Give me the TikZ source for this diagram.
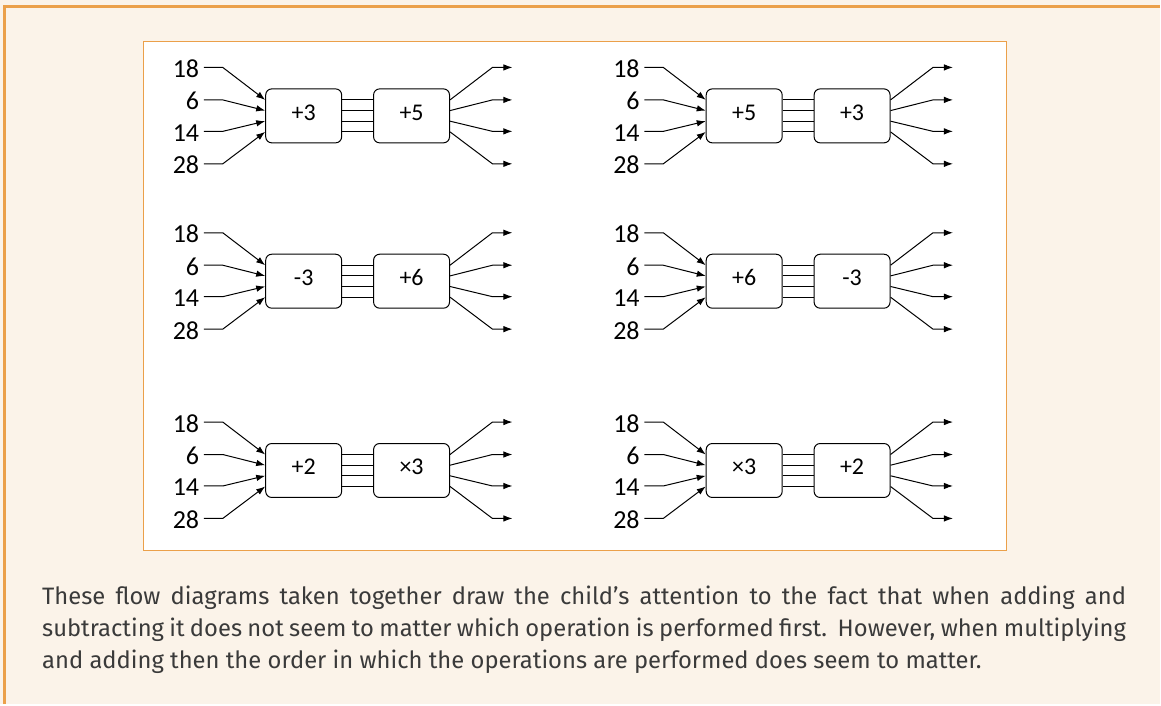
\documentclass[tikz,border=0pt]{standalone}
\usepackage{fontspec}
\setmainfont{Carlito}
\newfontfamily\notefont{Fira Sans}
\usetikzlibrary{arrows.meta}

\definecolor{cream}{HTML}{FBF3E9}
\definecolor{framecol}{HTML}{EBA04A}
\definecolor{notegray}{HTML}{3A3A3A}

\tikzset{
  opbox/.style={draw, line width=1pt, rounded corners=6pt, minimum width=76pt,
    minimum height=54pt, inner sep=0pt, text height=16.7pt, text depth=8pt,
    font=\fontsize{24}{28}\selectfont},
  numlabel/.style={anchor=base east, inner xsep=4.5pt, inner ysep=0pt,
    font=\fontsize{26}{30}\selectfont},
  wire/.style={line width=1pt},
  feed/.style={line width=1pt, -{Latex[length=9pt,width=6.5pt]}},
  notetext/.style={anchor=base west, inner sep=0pt, text=notegray,
    font=\notefont\fontsize{23.8}{31}\selectfont},
}

\begin{document}
\begin{tikzpicture}[x=1pt,y=-1pt]
% page and frames
\fill[cream] (0,0) rectangle (1161,705);
\draw[framecol, line width=2.5pt] (4.5,705) -- (4.5,6.5) -- (1161,6.5);
\draw[framecol, fill=white, line width=1pt] (143.5,41.5) rectangle (1007.5,551.5);

% six flow diagrams
\foreach \dx/\dy/\opa/\opb/\p in {0/0/+3/+5/a, 441/0/+5/+3/b,
    0/165.5/-3/+6/c, 441/165.5/+6/-3/d, 0/355/+2/×3/e, 441/355/×3/+2/f}{
  \begin{scope}[shift={(\dx,\dy)}]
  \node[opbox] (\p1) at (304,116) {\opa};
  \node[opbox] (\p2) at (412,116) {\opb};
  \foreach \v/\yi/\yp [count=\k] in {18/67.5/100, 6/100/110.7, 14/131.5/121.3, 28/164/132}{
    \node[numlabel] (lbl\p\k) at (204,\yi+10) {\v};
    \coordinate (out\p\k) at (513,\yi);
    \draw[feed] (lbl\p\k.east |- 0,\yi) -- (223,\yi) -- (\p1.west |- 0,\yp);
    \draw[wire] (\p1.east |- 0,\yp) -- (\p2.west |- 0,\yp);
    \draw[feed] (\p2.east |- 0,\yp) -- (493,\yi) -- (out\p\k);
  }
  \end{scope}
}

% caption
\node[notetext] (note1) at (42,605.5) {\makebox[1085pt][s]{These flow diagrams taken together draw the child’s attention to the fact that when adding and}};
\node[notetext] (note2) at (42,637.5) {\makebox[1085pt][s]{subtracting it does not seem to matter which operation is performed first.\ \ However, when multiplying}};
\node[notetext] (note3) at (42,669.5) {and adding then the order in which the operations are performed does seem to matter.};
\end{tikzpicture}
\end{document}
